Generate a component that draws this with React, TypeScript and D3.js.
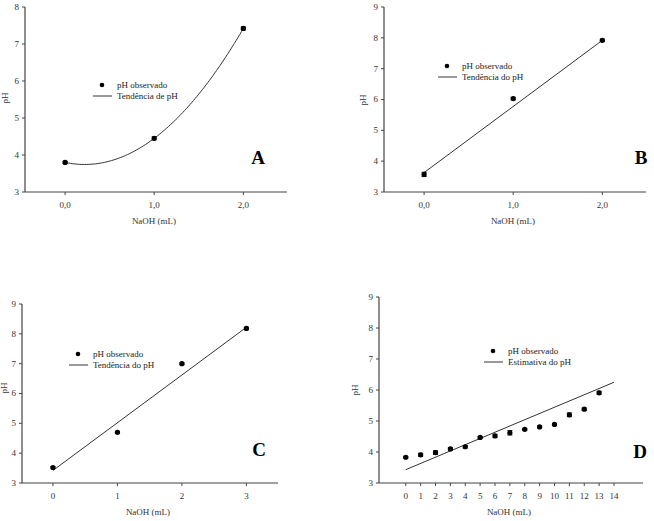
import React from "react";
import * as d3 from "d3";

// Panel A
const naohA = [0, 1, 2];
const phA = [3.8, 4.45, 7.42];
const errA = [0.03, 0.04, 0.04];
// Panel B
const naohB = [0, 1, 2];
const phB = [3.57, 6.03, 7.92];
const errB = [0.07, 0.04, 0.04];
const trendXB = [0, 2];
const trendYB = [3.63, 7.92];
// Panel C
const naohC = [0, 1, 2, 3];
const phC = [3.52, 4.7, 7.0, 8.18];
const errC = [0.03, 0.03, 0.03, 0.04];
const trendXC = [0, 3];
const trendYC = [3.42, 8.22];
// Panel D
const naohD = [0, 1, 2, 3, 4, 5, 6, 7, 8, 9, 10, 11, 12, 13];
const phD = [3.83, 3.91, 3.98, 4.1, 4.17, 4.47, 4.52, 4.62, 4.73, 4.81, 4.89, 5.2, 5.38, 5.91];
const errD = [0.03, 0.05, 0.06, 0.04, 0.04, 0.03, 0.05, 0.07, 0.03, 0.03, 0.03, 0.06, 0.04, 0.05];
const trendXD = [0, 14];
const trendYD = [3.43, 6.25];

const ticksABX = [0, 1, 2];
const ticksCX = [0, 1, 2, 3];
const ticksDX = [0, 1, 2, 3, 4, 5, 6, 7, 8, 9, 10, 11, 12, 13, 14];

const FONT = "'Liberation Serif', 'Times New Roman', serif";
const AX = "#444";

// quadratic least squares fit for panel A trend
function quadFit(xs: number[], ys: number[]) {
  const n = xs.length;
  let s = [0, 0, 0, 0, 0];
  let t = [0, 0, 0];
  for (let i = 0; i < n; i++) {
    for (let k = 0; k < 5; k++) s[k] += Math.pow(xs[i], k);
    for (let k = 0; k < 3; k++) t[k] += ys[i] * Math.pow(xs[i], k);
  }
  const M = [
    [s[0], s[1], s[2], t[0]],
    [s[1], s[2], s[3], t[1]],
    [s[2], s[3], s[4], t[2]],
  ];
  for (let i = 0; i < 3; i++) {
    for (let j = i + 1; j < 3; j++) {
      const f = M[j][i] / M[i][i];
      for (let k = i; k < 4; k++) M[j][k] -= f * M[i][k];
    }
  }
  const c = [0, 0, 0];
  for (let i = 2; i >= 0; i--) {
    let v = M[i][3];
    for (let k = i + 1; k < 3; k++) v -= M[i][k] * c[k];
    c[i] = v / M[i][i];
  }
  return (x: number) => c[0] + c[1] * x + c[2] * x * x;
}

type PanelProps = {
  xr: [number, number];
  xd: [number, number];
  yr: [number, number];
  yd: [number, number];
  xs: number[];
  ys: number[];
  es: number[];
  trend: [number, number][];
  xticks: number[];
  xfmt: (v: number) => string;
  legend: [string, string];
  legX: number;
  legY: number;
  label: string;
  labX: number;
  labY: number;
  ylabX: number;
  ylabY: number;
};

function Panel(p: PanelProps) {
  const x = d3.scaleLinear().domain(p.xd).range(p.xr);
  const y = d3.scaleLinear().domain(p.yd).range(p.yr);
  const yticks = d3.range(p.yd[0], p.yd[1] + 1);
  const line = d3
    .line<[number, number]>()
    .x((d) => x(d[0]))
    .y((d) => y(d[1]));
  const xMid = (p.xr[0] + p.xr[1]) / 2 - 2;
  return (
    <g fontFamily={FONT}>
      <line x1={p.xr[0]} x2={p.xr[0]} y1={p.yr[0]} y2={p.yr[1]} stroke={AX} strokeWidth={1.2} />
      <line x1={p.xr[0]} x2={p.xr[1]} y1={p.yr[0]} y2={p.yr[0]} stroke={AX} strokeWidth={1.2} />
      {yticks.map((t) => (
        <g key={"y" + t}>
          <line x1={p.xr[0] - 3} x2={p.xr[0]} y1={y(t)} y2={y(t)} stroke={AX} />
          <text x={p.xr[0] - 6} y={y(t)} dy="0.33em" fontSize={9} textAnchor="end" fill="#333">
            {t}
          </text>
        </g>
      ))}
      {p.xticks.map((t) => (
        <g key={"x" + t}>
          <line x1={x(t)} x2={x(t)} y1={p.yr[0]} y2={p.yr[0] + 3} stroke={AX} />
          <text x={x(t)} y={p.yr[0] + 16} fontSize={9} textAnchor="middle" fill="#333">
            {p.xfmt(t)}
          </text>
        </g>
      ))}
      <text x={xMid} y={p.yr[0] + 32} fontSize={9} textAnchor="middle" fill="#333">
        NaOH (mL)
      </text>
      <text
        transform={`translate(${p.ylabX},${p.ylabY}) rotate(-90)`}
        fontSize={9}
        textAnchor="middle"
        fill="#333"
      >
        pH
      </text>
      <path d={line(p.trend) || ""} fill="none" stroke="#333" strokeWidth={1} />
      {p.xs.map((v, i) => (
        <g key={"e" + i} stroke="#111" strokeWidth={1}>
          <line x1={x(v)} x2={x(v)} y1={y(p.ys[i] - p.es[i])} y2={y(p.ys[i] + p.es[i])} />
          <line x1={x(v) - 2.5} x2={x(v) + 2.5} y1={y(p.ys[i] - p.es[i])} y2={y(p.ys[i] - p.es[i])} />
          <line x1={x(v) - 2.5} x2={x(v) + 2.5} y1={y(p.ys[i] + p.es[i])} y2={y(p.ys[i] + p.es[i])} />
        </g>
      ))}
      {p.xs.map((v, i) => (
        <circle key={"c" + i} cx={x(v)} cy={y(p.ys[i])} r={2.6} fill="#000" />
      ))}
      <circle cx={p.legX + 9} cy={p.legY} r={2.3} fill="#000" />
      <text x={p.legX + 24} y={p.legY} dy="0.33em" fontSize={9} fill="#222">
        {p.legend[0]}
      </text>
      <line x1={p.legX} x2={p.legX + 19} y1={p.legY + 11} y2={p.legY + 11} stroke="#333" />
      <text x={p.legX + 24} y={p.legY + 11} dy="0.33em" fontSize={9} fill="#222">
        {p.legend[1]}
      </text>
      <text x={p.labX} y={p.labY} dy="0.35em" fontSize={19} fontWeight="bold" textAnchor="middle" fill="#000">
        {p.label}
      </text>
    </g>
  );
}

export default function App() {
  const fA = quadFit(naohA, phA);
  const trendA: [number, number][] = d3.range(0, 2.0001, 0.02).map((v) => [v, fA(v)]);
  const zip = (a: number[], b: number[]) => a.map((v, i) => [v, b[i]] as [number, number]);
  const fmt1 = (v: number) => v.toFixed(1).replace(".", ",");
  const fmt0 = (v: number) => String(v);
  return (
    <svg width={654} height={521} style={{ position: "absolute", left: 0, top: 0, background: "#fff" }}>
      <rect width={654} height={521} fill="#fff" />
      <Panel
        xr={[25, 287]} xd={[-0.45, 2.49]} yr={[192, 7]} yd={[3, 8]}
        xs={naohA} ys={phA} es={errA} trend={trendA}
        xticks={ticksABX} xfmt={fmt1}
        legend={["pH observado", "Tendência de pH"]}
        legX={93} legY={85} label="A" labX={258} labY={157} ylabX={8} ylabY={98}
      />
      <Panel
        xr={[384, 646]} xd={[-0.45, 2.49]} yr={[192, 7]} yd={[3, 9]}
        xs={naohB} ys={phB} es={errB} trend={zip(trendXB, trendYB)}
        xticks={ticksABX} xfmt={fmt1}
        legend={["pH observado", "Tendência do pH"]}
        legX={438} legY={66} label="B" labX={641} labY={157} ylabX={366} ylabY={100}
      />
      <Panel
        xr={[22, 278]} xd={[-0.48, 3.49]} yr={[483, 304]} yd={[3, 9]}
        xs={naohC} ys={phC} es={errC} trend={zip(trendXC, trendYC)}
        xticks={ticksCX} xfmt={fmt0}
        legend={["pH observado", "Tendência do pH"]}
        legX={69} legY={354} label="C" labX={259} labY={449} ylabX={7} ylabY={388}
      />
      <Panel
        xr={[379, 643]} xd={[-1.8, 15.95]} yr={[483, 297]} yd={[3, 9]}
        xs={naohD} ys={phD} es={errD} trend={zip(trendXD, trendYD)}
        xticks={ticksDX} xfmt={fmt0}
        legend={["pH observado", "Estimativa do pH"]}
        legX={484} legY={351} label="D" labX={640} labY={451} ylabX={358} ylabY={390}
      />
    </svg>
  );
}
